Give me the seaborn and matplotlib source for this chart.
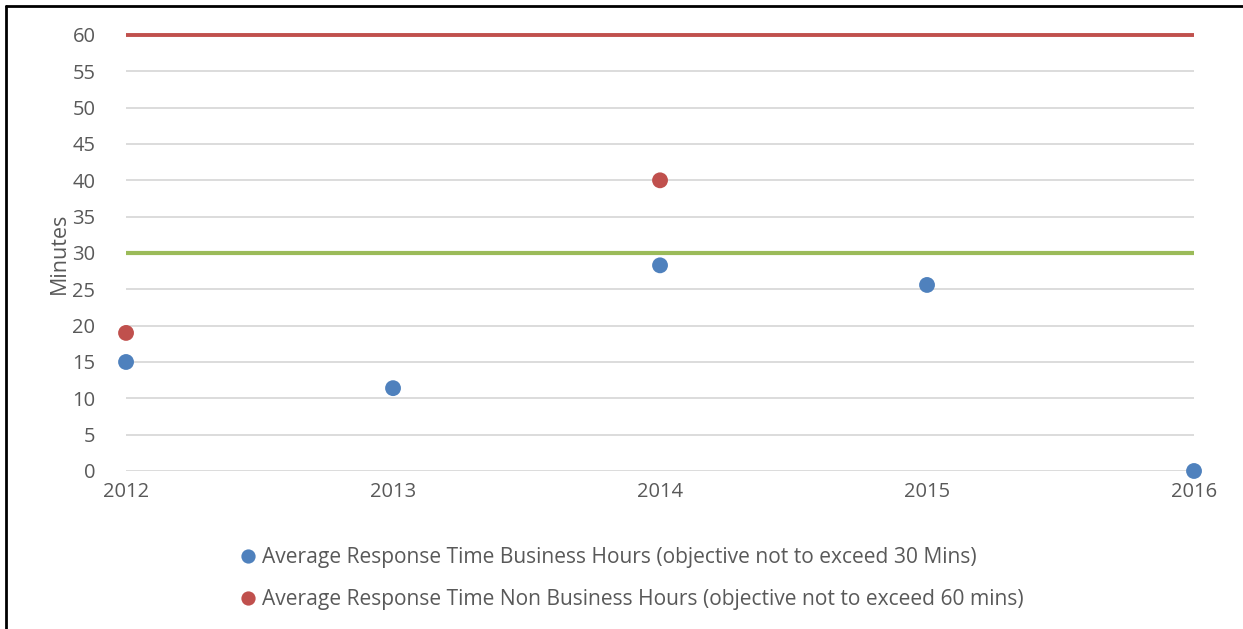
import pandas as pd
import matplotlib.pyplot as plt
import seaborn as sns
from matplotlib.lines import Line2D

# values
years = [2012, 2013, 2014, 2015, 2016]
business = [15, 11.4, 28.3, 25.6, 0]
non_business_years = [2012, 2014]
non_business = [19, 40]
target_business = [30, 30, 30, 30, 30]
target_non_business = [60, 60, 60, 60, 60]

lbl_bus = "Average Response Time Business Hours (objective not to exceed 30 Mins)"
lbl_non = "Average Response Time Non Business Hours (objective not to exceed 60 mins)"

df = pd.concat([
    pd.DataFrame({"Year": years, "Minutes": business, "Series": lbl_bus}),
    pd.DataFrame({"Year": non_business_years, "Minutes": non_business, "Series": lbl_non}),
])

sns.set_style("white")
plt.rcParams["font.family"] = ["Open Sans", "DejaVu Sans"]

grey = "#595959"
fig = plt.figure(figsize=(12.43, 6.29), dpi=100)
ax = fig.add_axes([0.1014, 0.2512, 0.8592, 0.6932])

ax.set_ylim(0, 60)
ax.set_xlim(2012, 2016)
ax.set_yticks(range(0, 61, 5))
ax.set_xticks(years)
ax.yaxis.grid(True, color="#D9D9D9", lw=1.3)
ax.set_axisbelow(True)
for s in ax.spines.values():
    s.set_visible(False)

# objective lines
sns.lineplot(x=years, y=target_non_business, color="#C0504D", lw=2.8, ax=ax,
             legend=False, zorder=2, clip_on=False, solid_capstyle="butt")
sns.lineplot(x=years, y=target_business, color="#9BBB59", lw=3, ax=ax,
             legend=False, zorder=2, clip_on=False, solid_capstyle="butt")

sns.scatterplot(data=df, x="Year", y="Minutes", hue="Series",
                palette={lbl_bus: "#4F81BD", lbl_non: "#C0504D"},
                s=130, edgecolor="none", ax=ax, clip_on=False, zorder=3)

ax.tick_params(axis="both", length=0, labelsize=14.5, labelcolor=grey)
ax.tick_params(axis="x", pad=8)
ax.tick_params(axis="y", pad=22)
ax.set_xlabel("")
ax.set_ylabel("Minutes", fontsize=15.5, color=grey, labelpad=2)

handles, labels = ax.get_legend_handles_labels()
ax.get_legend().remove()
fig.legend(handles, labels, loc="upper center", bbox_to_anchor=(0.503, 0.16),
           ncol=1, frameon=False, fontsize=15.1, labelcolor=grey,
           handletextpad=-0.3, labelspacing=1.0, markerscale=0.9)

# frame edge visible on left and top
fig.add_artist(Line2D([0.0045, 0.0045], [0, 0.991], color="black", lw=2, transform=fig.transFigure))
fig.add_artist(Line2D([0.0045, 1], [0.991, 0.991], color="black", lw=2, transform=fig.transFigure))

fig.savefig("out.png", dpi=100)
